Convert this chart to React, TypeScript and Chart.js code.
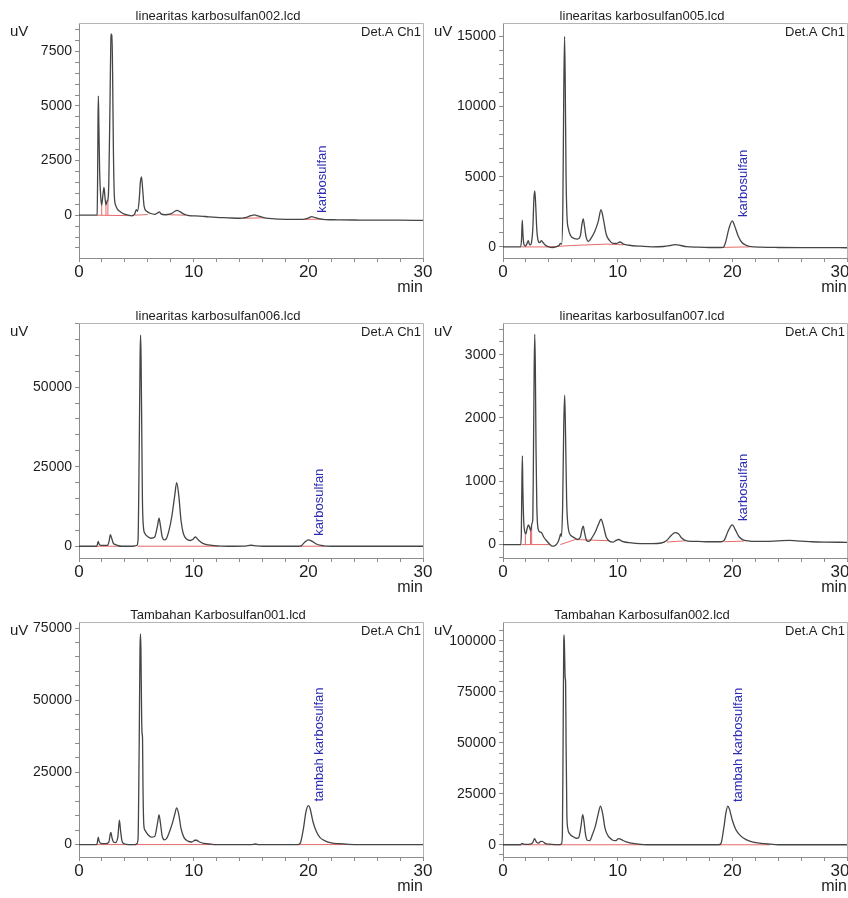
import React, { useEffect, useRef } from 'react';
import { Chart, registerables } from 'chart.js';
Chart.register(...registerables);

type Pt = [number, number];

const FONT = '"Liberation Sans", Arial, Helvetica, sans-serif';

// ---------- titles & labels ----------
const panelTitles = [
  'linearitas karbosulfan002.lcd',
  'linearitas karbosulfan005.lcd',
  'linearitas karbosulfan006.lcd',
  'linearitas karbosulfan007.lcd',
  'Tambahan Karbosulfan001.lcd',
  'Tambahan Karbosulfan002.lcd',
];
const peakNames = ['karbosulfan', 'karbosulfan', 'karbosulfan', 'karbosulfan', 'tambah karbosulfan', 'tambah karbosulfan'];
const peakTimes = [20.3, 20.0, 20.0, 20.0, 20.0, 19.6];
const peakApex = [-70, 1850, 2000, 310, 13500, 19000];

// ---------- axis ranges ----------
const yMins = [-1960, -790, -3700, -212, -4300, -6000];
const yMaxs = [8800, 15960, 70150, 3500, 77080, 109300];
const yMinorSteps = [500, 1000, 5000, 200, 5000, 5000];
const yMajorSteps = [2500, 5000, 25000, 1000, 25000, 25000];
const xMin = 0;
const xMax = 30;
const xMinorStep = 2;
const xMajorStep = 10;

// ---------- chromatogram traces (min, uV) ----------
const trace002: Pt[] = [
  [0, 0], [1.5, 0], [1.58, 10], [1.62, 1500], [1.66, 4500], [1.69, 5450], [1.73, 4200], [1.8, 2000], [1.9, 800],
  [1.98, 460], [2.08, 900], [2.18, 1270], [2.27, 800], [2.35, 470], [2.45, 650], [2.52, 700], [2.6, 1500],
  [2.7, 5000], [2.78, 8100], [2.82, 8300], [2.85, 8050], [2.88, 8250], [2.93, 6500], [3.0, 3000], [3.08, 900],
  [3.2, 450], [3.35, 280], [3.6, 160], [3.9, 60], [4.3, 0], [4.6, -30], [4.85, 50], [5.0, 250], [5.1, 180],
  [5.25, 700], [5.35, 1500], [5.45, 1750], [5.55, 1200], [5.68, 400], [5.9, 180], [6.2, 90], [6.6, 40],
  [6.9, 120], [7.0, 150], [7.15, 60], [7.5, 20], [8.0, 60], [8.3, 160], [8.55, 220], [8.8, 160], [9.2, 40],
  [9.6, -20], [10.0, -30], [10.5, -40], [11, -60], [12, -100], [13, -120], [14, -140], [14.5, -110], [15.0, -20],
  [15.3, 10], [15.6, -30], [16.1, -110], [16.5, -150], [17.5, -180], [18.5, -190], [19.5, -190], [20.0, -130],
  [20.3, -70], [20.6, -110], [21.0, -170], [21.5, -200], [22.5, -210], [24, -220], [26, -230], [28, -230], [30, -240],
];
const trace005: Pt[] = [
  [0, 0], [1.55, 0], [1.62, 600], [1.68, 1900], [1.74, 900], [1.82, 200], [1.95, 60], [2.1, 250], [2.2, 450],
  [2.3, 200], [2.4, 150], [2.5, 400], [2.6, 1300], [2.7, 3500], [2.77, 4000], [2.84, 3200], [2.95, 1200],
  [3.08, 400], [3.2, 300], [3.35, 450], [3.5, 300], [3.7, 120], [4.0, 0], [4.3, -40], [4.6, 0], [4.9, 120],
  [5.02, 250], [5.12, 200], [5.22, 3000], [5.3, 11000], [5.37, 15000], [5.43, 11500], [5.5, 5000], [5.58, 2200],
  [5.7, 1300], [5.9, 800], [6.2, 600], [6.5, 560], [6.75, 800], [6.9, 1700], [7.0, 2000], [7.1, 1500], [7.25, 700],
  [7.45, 400], [7.7, 650], [8.0, 1100], [8.3, 1800], [8.55, 2650], [8.75, 2000], [9.0, 900], [9.3, 450], [9.6, 250],
  [9.9, 250], [10.2, 350], [10.5, 200], [11.0, 120], [12.0, 50], [13.0, 0], [14.0, 30], [14.6, 100], [15.0, 160],
  [15.5, 100], [16.0, 20], [17.0, -20], [18.0, -40], [19.0, -40], [19.2, -30], [19.4, 300], [19.7, 1300],
  [20.0, 1850], [20.2, 1500], [20.5, 800], [20.8, 350], [21.2, 120], [21.6, 20], [22.5, -20], [24, -40],
  [26, -50], [28, -50], [30, -60],
];
const trace006: Pt[] = [
  [0, 0], [1.55, 0], [1.62, 800], [1.68, 1500], [1.75, 700], [1.9, 300], [2.2, 250], [2.5, 300], [2.62, 1500],
  [2.74, 3600], [2.85, 2500], [3.0, 900], [3.2, 500], [3.45, 150], [3.7, 0], [4.5, 0], [4.9, 100], [5.05, 300],
  [5.15, 2000], [5.25, 30000], [5.33, 60000], [5.37, 66300], [5.41, 60000], [5.47, 38000], [5.53, 15000],
  [5.62, 6000], [5.75, 4000], [6.0, 3000], [6.3, 2500], [6.6, 2900], [6.85, 6500], [6.98, 8800], [7.1, 6500],
  [7.25, 3000], [7.45, 2000], [7.6, 2300], [7.85, 5000], [8.1, 9500], [8.35, 16000], [8.52, 20000], [8.7, 16000],
  [8.9, 8000], [9.1, 4000], [9.4, 2200], [9.7, 1800], [9.95, 2200], [10.15, 2900], [10.4, 2000], [10.8, 900],
  [11.3, 400], [12, 100], [13, 0], [14.5, 50], [15, 300], [15.5, 100], [16, 0], [19.2, 0], [19.4, 200],
  [19.7, 1300], [20.0, 2000], [20.3, 1600], [20.7, 700], [21.1, 250], [21.5, 50], [22, 0], [30, 0],
];
const trace007: Pt[] = [
  [0, 0], [1.55, 0], [1.6, 200], [1.65, 1000], [1.69, 1400], [1.73, 900], [1.8, 400], [1.9, 200], [2.0, 170],
  [2.1, 250], [2.22, 310], [2.32, 270], [2.42, 220], [2.52, 330], [2.6, 400], [2.66, 1500], [2.72, 2800],
  [2.77, 3320], [2.82, 2800], [2.88, 1500], [2.95, 600], [3.05, 260], [3.2, 200], [3.35, 190], [3.55, 120],
  [3.8, 60], [4.1, 0], [4.3, -25], [4.5, -20], [4.8, 40], [4.95, 120], [5.02, 170], [5.1, 130], [5.2, 600],
  [5.3, 1900], [5.38, 2360], [5.45, 1800], [5.55, 700], [5.7, 250], [5.95, 140], [6.2, 110], [6.5, 80],
  [6.75, 120], [6.9, 250], [7.0, 290], [7.1, 200], [7.3, 60], [7.5, 50], [7.8, 120], [8.1, 220], [8.35, 330],
  [8.55, 400], [8.75, 300], [9.0, 120], [9.3, 50], [9.6, 40], [9.9, 70], [10.1, 80], [10.4, 50], [11, 30],
  [12, 15], [13, 15], [13.8, 25], [14.3, 70], [14.7, 150], [15.0, 190], [15.3, 170], [15.6, 100], [16.0, 60],
  [17, 50], [18, 45], [19, 45], [19.3, 70], [19.6, 200], [19.9, 300], [20.0, 310], [20.3, 220], [20.6, 120],
  [21.0, 70], [21.5, 55], [22, 50], [23, 50], [24, 60], [25, 65], [26, 55], [27, 45], [28, 40], [30, 35],
];
const traceT001: Pt[] = [
  [0, 0], [1.55, 0], [1.62, 1200], [1.68, 2600], [1.75, 1300], [1.9, 400], [2.3, 300], [2.6, 800], [2.72, 3500],
  [2.78, 4200], [2.87, 2500], [3.0, 900], [3.2, 700], [3.4, 3000], [3.52, 8500], [3.62, 5000], [3.75, 1200],
  [3.95, 300], [4.3, 0], [4.9, 0], [5.05, 300], [5.15, 2000], [5.25, 35000], [5.32, 68000], [5.36, 73000],
  [5.4, 68000], [5.46, 45000], [5.5, 38500], [5.54, 37000], [5.58, 20000], [5.65, 7000], [5.75, 5000],
  [6.0, 3500], [6.3, 2600], [6.6, 2800], [6.85, 7500], [6.98, 10300], [7.1, 7500], [7.25, 3000], [7.45, 1600],
  [7.65, 2200], [7.9, 4500], [8.15, 7500], [8.35, 10500], [8.52, 12700], [8.7, 10500], [8.9, 5500], [9.15, 2500],
  [9.5, 1200], [9.85, 900], [10.1, 1500], [10.25, 1500], [10.5, 900], [10.9, 400], [11.5, 150], [12, 0], [15, 0],
  [15.4, 200], [15.7, 0], [19.1, 0], [19.3, 500], [19.55, 5000], [19.8, 11500], [20.0, 13500], [20.15, 12500],
  [20.4, 8000], [20.7, 4500], [21.0, 2500], [21.5, 1200], [22, 600], [22.7, 300], [23.5, 100], [24.5, 0], [30, 0],
];
const traceT002: Pt[] = [
  [0, 0], [1.55, 0], [1.65, 700], [1.75, 400], [1.9, 200], [2.4, 300], [2.6, 1200], [2.75, 3000], [2.9, 1500],
  [3.1, 800], [3.3, 1700], [3.45, 1600], [3.7, 600], [4.0, 300], [4.5, 100], [5.0, 100], [5.1, 500], [5.18, 5000],
  [5.24, 50000], [5.3, 100000], [5.33, 103000], [5.37, 95000], [5.42, 82000], [5.46, 80000], [5.5, 50000],
  [5.57, 15000], [5.65, 8000], [5.8, 5500], [6.1, 4000], [6.4, 3200], [6.6, 3500], [6.8, 9000], [6.95, 14800],
  [7.05, 12000], [7.2, 5000], [7.35, 2200], [7.55, 2000], [7.8, 5000], [8.05, 9000], [8.3, 15000], [8.5, 19000],
  [8.7, 15000], [8.9, 8000], [9.15, 4500], [9.5, 2500], [9.8, 2000], [10.1, 3000], [10.3, 2600], [10.7, 1500],
  [11.2, 800], [11.8, 300], [12.5, 0], [18.8, 0], [19.0, 500], [19.25, 8000], [19.45, 16000], [19.6, 19000],
  [19.75, 17500], [20.0, 12000], [20.3, 7500], [20.7, 4500], [21.2, 2500], [21.8, 1300], [22.5, 700], [23.3, 300],
  [24, 0], [30, 0],
];

// ---------- integration baselines / drop lines (red) ----------
const base002: Pt[][] = [
  [[1.6, 0], [4.5, -20]], [[1.98, 0], [1.98, 460]], [[2.35, 0], [2.35, 470]], [[2.52, 0], [2.52, 700]],
  [[4.85, 0], [6.0, 30]], [[7.9, 20], [9.3, 0]], [[14.3, -140], [16.2, -120]], [[19.7, -190], [21.3, -180]],
];
const base005: Pt[][] = [
  [[1.6, 0], [4.0, 0], [6.0, 100], [9.0, 200], [10.5, 150]], [[19.2, -30], [21.5, 0]],
];
const base006: Pt[][] = [
  [[1.6, 0], [3.6, 0]], [[5.1, 0], [12.2, 0]], [[19.3, 0], [21.4, 0]],
];
const base007: Pt[][] = [
  [[1.6, 0], [4.1, 0]], [[1.95, 0], [1.95, 175]], [[2.4, 0], [2.4, 220]], [[2.5, 0], [2.5, 300]],
  [[5.0, 0], [6.3, 80], [9.3, 60]], [[14.3, 40], [15.9, 60]], [[19.3, 45], [21.0, 55]],
];
const baseT001: Pt[][] = [
  [[1.6, 0], [12, 0]], [[15.3, 0], [15.7, 0]], [[19.1, 0], [23.5, 0]],
];
const baseT002: Pt[][] = [
  [[1.6, 0], [12.2, 0]], [[18.9, 0], [23.3, 0]],
];

const traces = [trace002, trace005, trace006, trace007, traceT001, traceT002];
const baselines = [base002, base005, base006, base007, baseT001, baseT002];

const CANVAS_W = 440;
const CANVAS_H = 300;
const panelLefts = [0, 424, 0, 424, 0, 424];
const panelTops = [0, 0, 300, 300, 599, 599];

function stepTicks(min: number, max: number, step: number) {
  const out: { value: number }[] = [];
  const n0 = Math.ceil(min / step - 1e-9);
  const n1 = Math.floor(max / step + 1e-9);
  for (let n = n0; n <= n1; n++) out.push({ value: n * step });
  return out;
}

function makeOverlay(i: number) {
  return {
    id: 'overlay' + i,
    afterDraw(chart: any) {
      const { ctx, chartArea: ca, scales } = chart;
      ctx.save();
      // frame (top & right)
      ctx.strokeStyle = '#b4b4b4';
      ctx.lineWidth = 1;
      ctx.beginPath();
      ctx.moveTo(ca.left, Math.round(ca.top) + 0.5);
      ctx.lineTo(Math.round(ca.right) + 0.5, Math.round(ca.top) + 0.5);
      ctx.lineTo(Math.round(ca.right) + 0.5, ca.bottom);
      ctx.stroke();

      ctx.fillStyle = '#1e1e1e';
      ctx.textBaseline = 'middle';
      // title
      ctx.font = `13px ${FONT}`;
      ctx.textAlign = 'center';
      ctx.fillText(panelTitles[i], 218, ca.top - 7);
      // unit y
      ctx.font = `15px ${FONT}`;
      ctx.textAlign = 'left';
      ctx.fillText('uV', 10, ca.top + 9);
      // detector
      ctx.font = `13px ${FONT}`;
      ctx.textAlign = 'right';
      ctx.fillText('Det.A Ch1', ca.right - 2, ca.top + 9);
      // unit x
      ctx.font = `16px ${FONT}`;
      ctx.textAlign = 'right';
      ctx.fillText('min', ca.right, ca.bottom + 30);

      // peak label
      const px = scales.x.getPixelForValue(peakTimes[i]);
      const py = scales.y.getPixelForValue(peakApex[i]);
      ctx.translate(px + 11, py - 4);
      ctx.rotate(-Math.PI / 2);
      ctx.font = `13px ${FONT}`;
      ctx.fillStyle = '#2c2cb4';
      ctx.textAlign = 'left';
      ctx.textBaseline = 'middle';
      ctx.fillText(peakNames[i], 0, 0);
      ctx.restore();
    },
  };
}

function Panel({ i }: { i: number }) {
  const ref = useRef<HTMLCanvasElement>(null);
  useEffect(() => {
    const minor = yMinorSteps[i];
    const major = yMajorSteps[i];
    const rightCol = panelLefts[i] > 0;
    const redData: any[] = [];
    baselines[i].forEach((seg) => {
      seg.forEach(([x, y]) => redData.push({ x, y }));
      redData.push({ x: seg[seg.length - 1][0], y: null });
    });
    const chart = new Chart(ref.current as HTMLCanvasElement, {
      type: 'line',
      data: {
        datasets: [
          {
            data: traces[i].map(([x, y]) => ({ x, y })),
            borderColor: '#454545',
            borderWidth: 1.3,
            pointRadius: 0,
            cubicInterpolationMode: 'monotone',
            fill: false,
            order: 0,
          },
          {
            data: redData,
            borderColor: '#e46a6a',
            borderWidth: 1,
            pointRadius: 0,
            spanGaps: false,
            fill: false,
            order: 1,
          },
        ],
      } as any,
      options: {
        responsive: false,
        animation: false,
        events: [],
        layout: { padding: { top: 23, right: CANVAS_W - 423, bottom: 0, left: 0 } },
        plugins: { legend: { display: false }, tooltip: { enabled: false }, title: { display: false } },
        scales: {
          x: {
            type: 'linear',
            min: xMin,
            max: xMax,
            border: { display: true, color: '#8c8c8c', width: 1 },
            grid: { display: true, drawOnChartArea: false, drawTicks: true, tickLength: 4, color: '#8c8c8c' },
            ticks: {
              autoSkip: false,
              maxRotation: 0,
              padding: 0,
              color: '#1e1e1e',
              font: { size: 17, family: FONT },
              callback: (v: any) => {
                if (Math.abs(v % xMajorStep) > 1e-6) return '';
                if (rightCol && v === xMax) return String(v) + '\u00a0\u00a0\u00a0';
                return String(v);
              },
            },
            afterBuildTicks: (s: any) => {
              s.ticks = stepTicks(xMin, xMax, xMinorStep);
            },
            afterFit: (s: any) => {
              s.height = CANVAS_H - 258;
              s.paddingLeft = 0;
              s.paddingRight = 0;
            },
          },
          y: {
            type: 'linear',
            min: yMins[i],
            max: yMaxs[i],
            border: { display: true, color: '#8c8c8c', width: 1 },
            grid: { display: true, drawOnChartArea: false, drawTicks: true, tickLength: 4, color: '#8c8c8c' },
            ticks: {
              autoSkip: false,
              padding: 3,
              color: '#1e1e1e',
              font: { size: 14, family: FONT },
              callback: (v: any) => (v >= 0 && Math.abs(v % major) < 1e-6 ? String(v) : ''),
            },
            afterBuildTicks: (s: any) => {
              s.ticks = stepTicks(yMins[i], yMaxs[i], minor);
            },
            afterFit: (s: any) => {
              s.width = 79;
              s.paddingTop = 0;
              s.paddingBottom = 0;
            },
          },
        },
      } as any,
      plugins: [makeOverlay(i)],
    });
    return () => chart.destroy();
  }, [i]);
  return (
    <canvas
      ref={ref}
      width={CANVAS_W}
      height={CANVAS_H}
      style={{ position: 'absolute', left: panelLefts[i], top: panelTops[i], width: CANVAS_W, height: CANVAS_H }}
    />
  );
}

export default function App() {
  return (
    <div
      style={{
        position: 'absolute',
        left: 0,
        top: 0,
        width: 848,
        height: 898,
        overflow: 'hidden',
        background: '#ffffff',
      }}
    >
      {[0, 1, 2, 3, 4, 5].map((i) => (
        <Panel key={i} i={i} />
      ))}
    </div>
  );
}
